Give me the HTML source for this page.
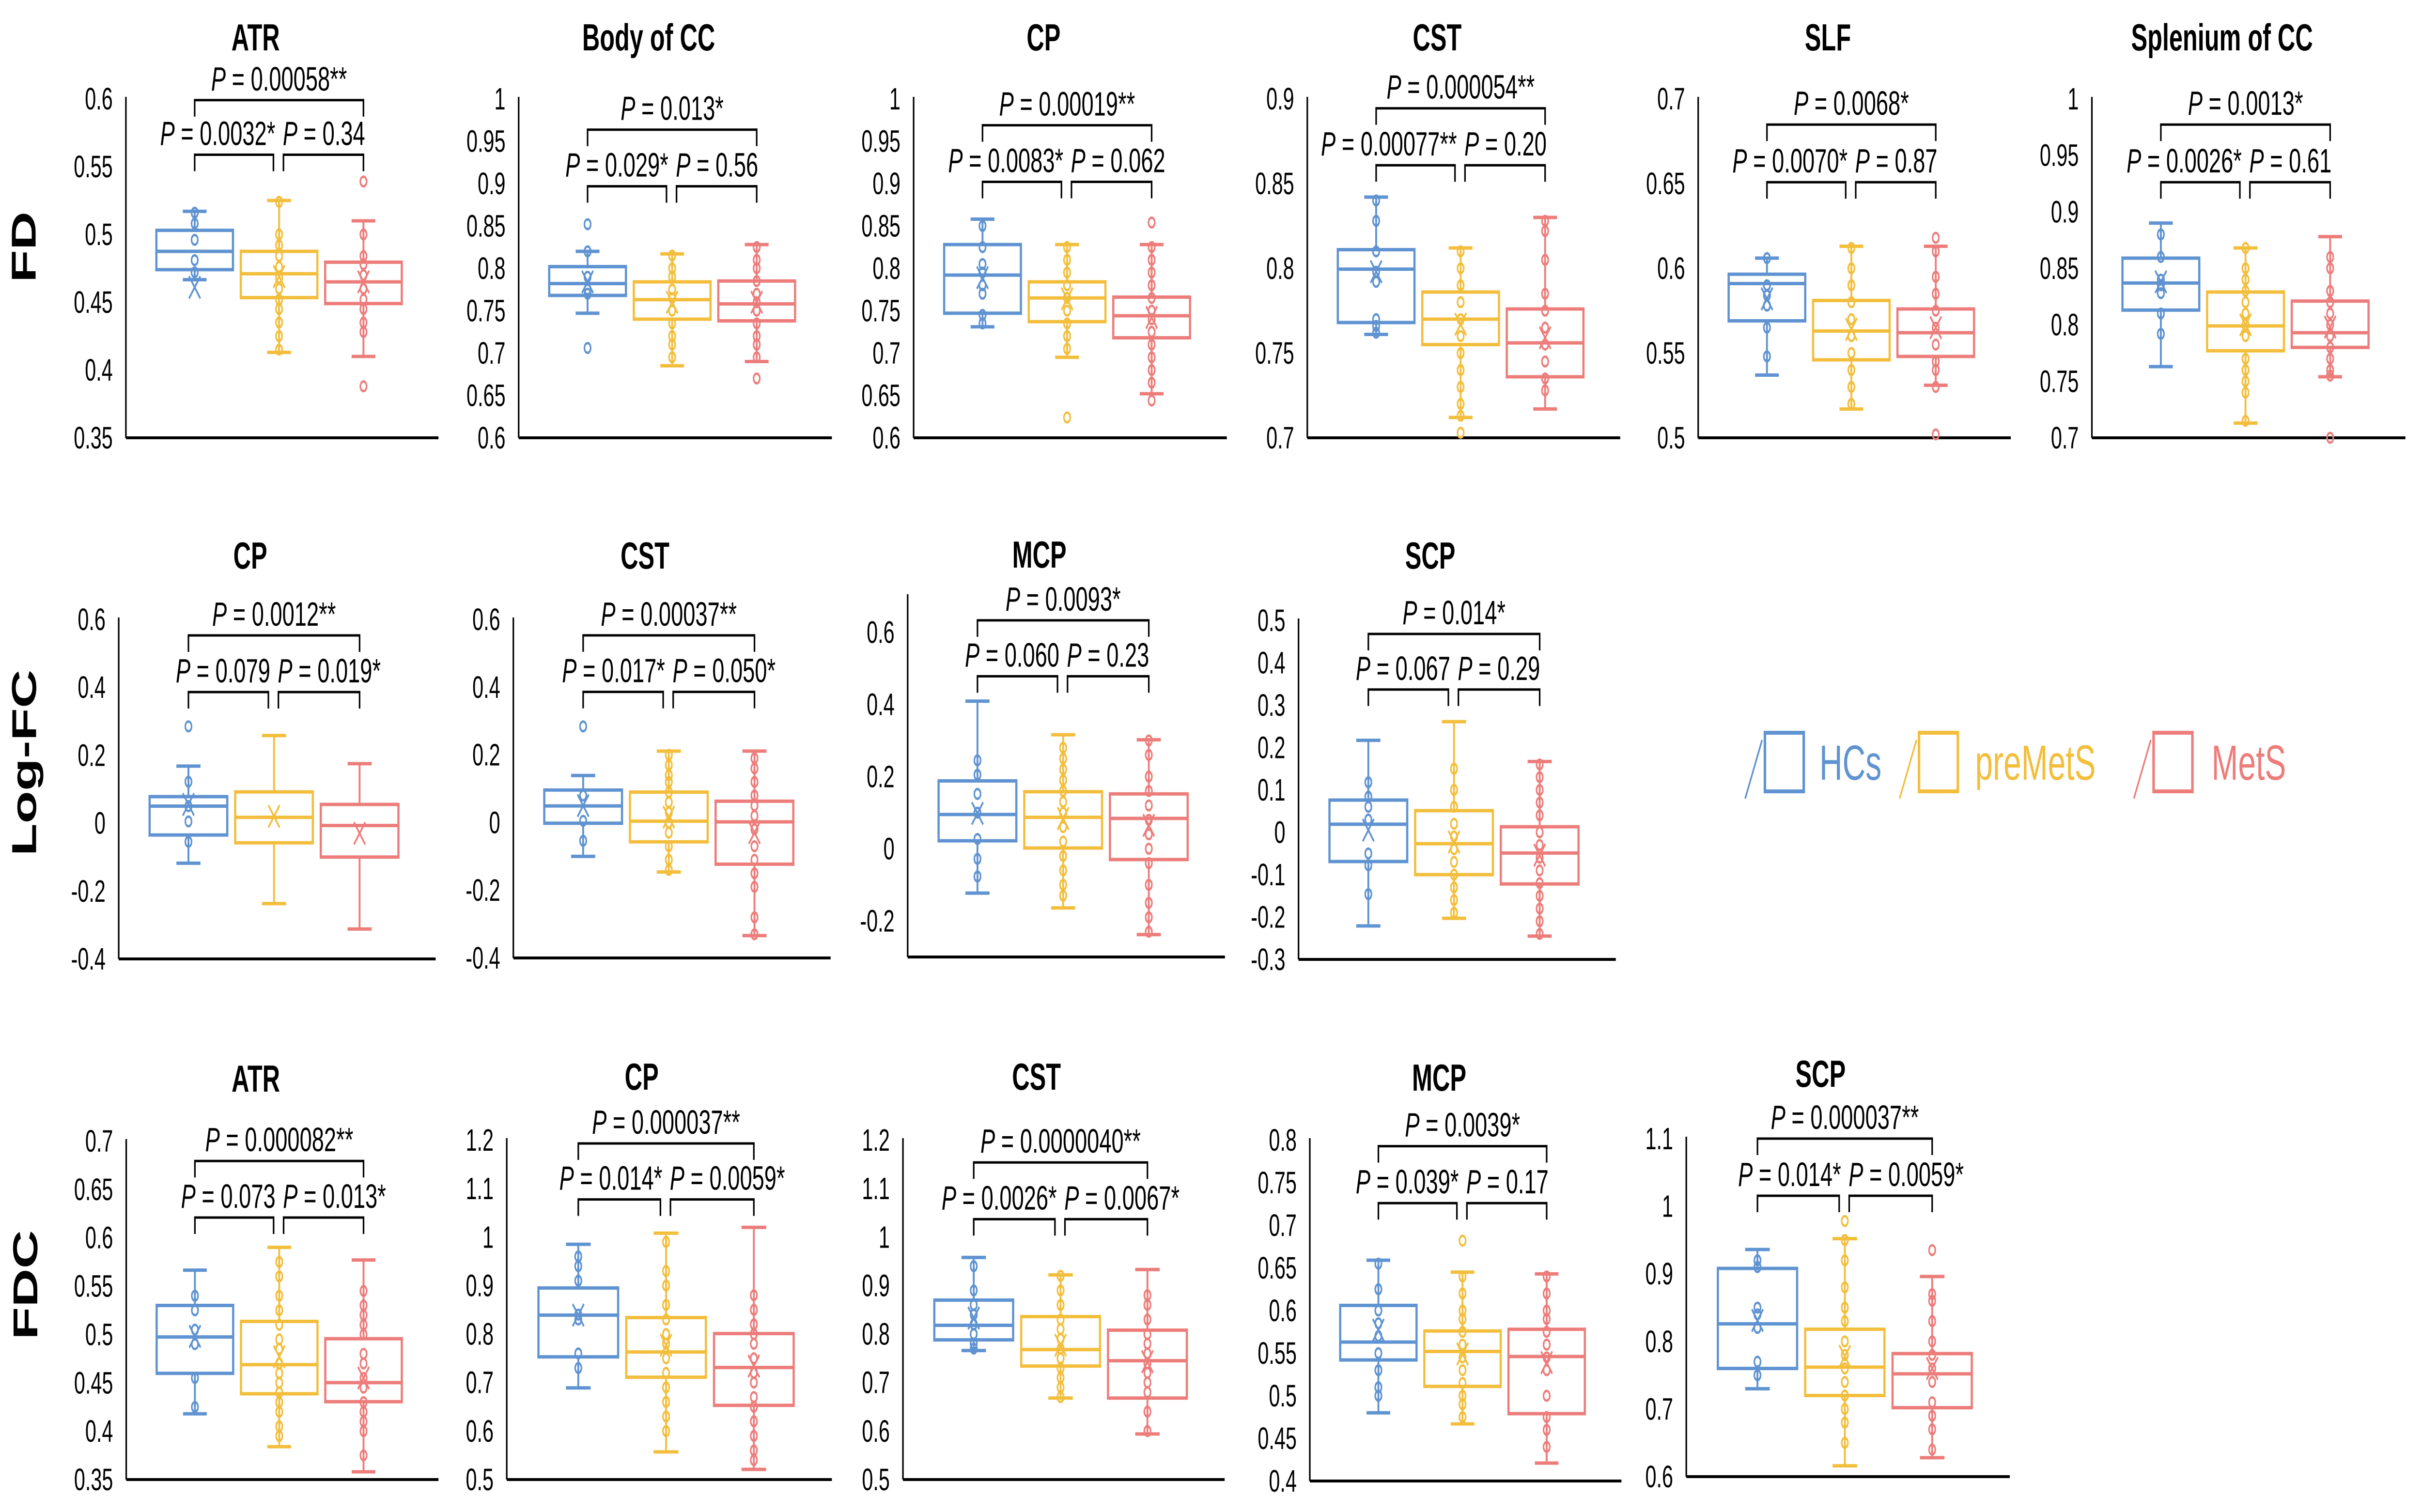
<!DOCTYPE html>
<html><head><meta charset="utf-8"><style>
html,body{margin:0;padding:0;background:#fff;width:100vw;height:100vh;overflow:hidden;}
svg{display:block;font-family:"Liberation Sans",sans-serif;width:100vw;height:100vh;}
</style></head><body>
<svg id="fig" viewBox="0 0 7733 3122" preserveAspectRatio="none" xmlns="http://www.w3.org/2000/svg"></svg>
<script>
// ---- data (one entry per panel, groups HCs / preMetS / MetS) ----
const panelTitles = ["ATR","Body of CC","CP","CST","SLF","Splenium of CC","CP","CST","MCP","SCP","ATR","CP","CST","MCP","SCP"];
const groupNames = ["HCs","preMetS","MetS"];
const whiskerHi = [[0.517,0.525,0.510],[0.82,0.817,0.828],[0.858,0.828,0.828],[0.842,0.812,0.830],[0.606,0.613,0.613],[0.890,0.868,0.878],
 [0.168,0.258,0.175],[0.139,0.211,0.211],[0.409,0.316,0.302],[0.217,0.261,0.167],
 [0.5665,0.590,0.577],[0.985,1.008,1.02],[0.958,0.922,0.933],[0.659,0.645,0.643],[0.936,0.952,0.896]];
const q3 = [[0.503,0.4875,0.4795],[0.802,0.784,0.785],[0.828,0.784,0.766],[0.811,0.786,0.776],[0.5965,0.581,0.576],[0.859,0.829,0.821],
 [0.078,0.092,0.055],[0.096,0.09,0.063],[0.188,0.158,0.152],[0.076,0.051,0.013],
 [0.530,0.5135,0.4956],[0.895,0.834,0.801],[0.870,0.836,0.808],[0.606,0.576,0.578],[0.908,0.818,0.782]];
const median = [[0.4875,0.471,0.465],[0.782,0.763,0.758],[0.792,0.765,0.744],[0.7995,0.770,0.756],[0.591,0.563,0.562],[0.837,0.799,0.793],
 [0.05,0.017,-0.007],[0.049,0.004,0.002],[0.095,0.087,0.084],[0.019,-0.027,-0.049],
 [0.4974,0.4688,0.4502],[0.839,0.763,0.731],[0.818,0.768,0.745],[0.563,0.552,0.546],[0.826,0.762,0.752]];
const q1 = [[0.474,0.4534,0.449],[0.768,0.74,0.738],[0.747,0.737,0.718],[0.768,0.755,0.736],[0.569,0.546,0.548],[0.813,0.777,0.78],
 [-0.035,-0.058,-0.1],[-0.002,-0.057,-0.123],[0.022,0.002,-0.03],[-0.069,-0.1,-0.122],
 [0.4598,0.4387,0.4305],[0.753,0.711,0.653],[0.788,0.734,0.668],[0.542,0.511,0.479],[0.76,0.72,0.702]];
const whiskerLo = [[0.4666,0.413,0.410],[0.747,0.685,0.69],[0.731,0.695,0.652],[0.761,0.712,0.717],[0.537,0.517,0.531],[0.763,0.713,0.754],
 [-0.118,-0.237,-0.312],[-0.1,-0.146,-0.334],[-0.123,-0.164,-0.238],[-0.221,-0.203,-0.245],
 [0.418,0.384,0.358],[0.689,0.557,0.521],[0.766,0.668,0.594],[0.480,0.467,0.421],[0.730,0.616,0.628]];
const meanVal = [[0.461,0.469,0.465],[0.784,0.76,0.76],[0.789,0.764,0.742],[0.798,0.767,0.759],[0.582,0.564,0.565],[0.838,0.8,0.798],
 [0.055,0.02,-0.03],[0.05,0.016,-0.03],[0.098,0.084,0.065],[0.005,-0.023,-0.054],
 [0.498,0.477,0.455],[0.839,0.777,0.734],[0.833,0.777,0.743],[0.577,0.549,0.539],[0.831,0.778,0.76]];
const points = [
 [[0.516,0.508,0.496,0.481,0.472],[0.524,0.5,0.492,0.484,0.476,0.468,0.46,0.452,0.445,0.435,0.425,0.415],[0.5,0.484,0.478,0.47,0.46,0.452,0.445,0.435,0.428]],
 [[0.82,0.79,0.775,0.77],[0.815,0.8,0.79,0.775,0.765,0.75,0.735,0.72,0.71,0.695],[0.825,0.81,0.8,0.785,0.77,0.76,0.75,0.735,0.72,0.71,0.695]],
 [[0.85,0.825,0.805,0.795,0.78,0.77,0.745,0.735],[0.825,0.81,0.795,0.78,0.765,0.75,0.735,0.72,0.705],[0.825,0.81,0.795,0.78,0.765,0.75,0.74,0.725,0.71,0.695,0.68,0.665]],
 [[0.84,0.828,0.81,0.798,0.792,0.77,0.766,0.762],[0.81,0.8,0.79,0.78,0.77,0.76,0.75,0.74,0.73,0.72,0.713],[0.828,0.822,0.805,0.785,0.775,0.765,0.755,0.745,0.735,0.728]],
 [[0.606,0.59,0.584,0.578,0.565,0.548],[0.612,0.6,0.59,0.58,0.57,0.56,0.55,0.54,0.53,0.52],[0.61,0.595,0.585,0.575,0.565,0.555,0.545,0.54,0.53]],
 [[0.88,0.86,0.84,0.835,0.828,0.81,0.792],[0.868,0.85,0.84,0.83,0.82,0.81,0.8,0.79,0.77,0.76,0.75,0.74,0.715],[0.86,0.85,0.83,0.82,0.81,0.8,0.79,0.78,0.77,0.76,0.755]],
 [[0.122,0.05,0.005,-0.055],[],[]],
 [[0.08,0.005,-0.054],[0.2,0.17,0.14,0.12,0.09,0.06,0.03,0,-0.03,-0.07,-0.11,-0.14],[0.19,0.16,0.12,0.08,0.05,0.02,-0.02,-0.07,-0.11,-0.15,-0.19,-0.28,-0.33]],
 [[0.245,0.205,0.152,0.1,0.027,-0.028,-0.077],[0.28,0.25,0.22,0.19,0.16,0.13,0.1,0.06,0.02,-0.02,-0.06,-0.1,-0.13],[0.3,0.26,0.2,0.16,0.12,0.08,0.04,0,-0.04,-0.1,-0.15,-0.19,-0.23]],
 [[0.118,0.084,0.06,0.03,-0.05,-0.078,-0.146],[0.15,0.1,0.06,0.02,-0.01,-0.04,-0.07,-0.1,-0.13,-0.16,-0.19],[0.16,0.13,0.1,0.07,0.04,0,-0.03,-0.06,-0.09,-0.12,-0.15,-0.18,-0.21,-0.24]],
 [[0.54,0.525,0.505,0.49,0.455,0.425],[0.575,0.56,0.54,0.525,0.51,0.495,0.485,0.47,0.46,0.45,0.44,0.43,0.42,0.405,0.395],[0.545,0.53,0.52,0.51,0.5,0.48,0.47,0.455,0.445,0.43,0.42,0.41,0.4,0.375]],
 [[0.96,0.94,0.91,0.84,0.83,0.76,0.73],[0.99,0.93,0.9,0.86,0.83,0.8,0.78,0.75,0.72,0.69,0.66,0.63,0.6],[0.88,0.85,0.82,0.8,0.78,0.75,0.72,0.7,0.67,0.65,0.62,0.59,0.56,0.54]],
 [[0.94,0.89,0.86,0.84,0.82,0.8,0.78,0.77],[0.92,0.89,0.86,0.83,0.81,0.79,0.77,0.75,0.73,0.71,0.69,0.67],[0.88,0.86,0.83,0.8,0.78,0.76,0.74,0.72,0.7,0.68,0.64,0.6]],
 [[0.655,0.625,0.6,0.585,0.57,0.55,0.53,0.51,0.5],[0.64,0.62,0.6,0.59,0.575,0.56,0.545,0.53,0.515,0.5,0.49,0.475],[0.64,0.62,0.6,0.59,0.575,0.56,0.545,0.53,0.5,0.475,0.46,0.44]],
 [[0.92,0.91,0.85,0.84,0.82,0.77,0.75],[0.95,0.92,0.88,0.85,0.83,0.8,0.78,0.76,0.74,0.72,0.7,0.68,0.65],[0.87,0.86,0.83,0.8,0.78,0.76,0.74,0.71,0.69,0.67,0.64]]
];
const outliers = [
 [[],[],[0.539,0.388]],[[0.852,0.706],[],[0.67]],[[],[0.624],[0.854,0.644]],[[],[0.703],[]],[[],[],[0.618,0.502]],[[],[],[0.7]],
 [[0.285],[],[]],[[0.284],[],[]],[[],[],[]],[[],[],[]],
 [[],[],[]],[[],[],[]],[[],[],[]],[[],[0.682],[]],[[],[0.978],[0.935]]
];
const pTop = ["0.00058**","0.013*","0.00019**","0.000054**","0.0068*","0.0013*","0.0012**","0.00037**","0.0093*","0.014*","0.000082**","0.000037**","0.0000040**","0.0039*","0.000037**"];
const pLeft = ["0.0032*","0.029*","0.0083*","0.00077**","0.0070*","0.0026*","0.079","0.017*","0.060","0.067","0.073","0.014*","0.0026*","0.039*","0.014*"];
const pRight = ["0.34","0.56","0.062","0.20","0.87","0.61","0.019*","0.050*","0.23","0.29","0.013*","0.0059*","0.0067*","0.17","0.0059*"];
const yMin = [0.35,0.6,0.6,0.7,0.5,0.7,-0.4,-0.4,-0.3,-0.3,0.35,0.5,0.5,0.4,0.6];
const yMax = [0.6,1,1,0.9,0.7,1,0.6,0.6,0.7,0.5,0.7,1.2,1.2,0.8,1.1];
const tickLabels = [
 ["0.35","0.4","0.45","0.5","0.55","0.6"],["0.6","0.65","0.7","0.75","0.8","0.85","0.9","0.95","1"],["0.6","0.65","0.7","0.75","0.8","0.85","0.9","0.95","1"],
 ["0.7","0.75","0.8","0.85","0.9"],["0.5","0.55","0.6","0.65","0.7"],["0.7","0.75","0.8","0.85","0.9","0.95","1"],
 ["-0.4","-0.2","0","0.2","0.4","0.6"],["-0.4","-0.2","0","0.2","0.4","0.6"],["-0.2","0","0.2","0.4","0.6"],["-0.3","-0.2","-0.1","0","0.1","0.2","0.3","0.4","0.5"],
 ["0.35","0.4","0.45","0.5","0.55","0.6","0.65","0.7"],["0.5","0.6","0.7","0.8","0.9","1","1.1","1.2"],["0.5","0.6","0.7","0.8","0.9","1","1.1","1.2"],
 ["0.4","0.45","0.5","0.55","0.6","0.65","0.7","0.75","0.8"],["0.6","0.7","0.8","0.9","1","1.1"]
];
// ---- layout (pixels) ----
const layout = [
 {ax:402,ar:1400,top:204,bot:904,ty:104,bt:0.004,bl:0.165},{ax:1656,ar:2656,top:204,bot:904,ty:104,bt:0.091,bl:0.258},
 {ax:2917,ar:3917,top:204,bot:904,ty:104,bt:0.078,bl:0.245},{ax:4174,ar:5173,top:204,bot:904,ty:104,bt:0.028,bl:0.196},
 {ax:5422,ar:6420,top:204,bot:904,ty:104,bt:0.076,bl:0.246},{ax:6679,ar:7680,top:204,bot:904,ty:104,bt:0.076,bl:0.246},
 {ax:379,ar:1391,top:1279,bot:1980,ty:1174,bt:0.047,bl:0.214},{ax:1639,ar:2652,top:1279,bot:1978,ty:1174,bt:0.047,bl:0.214},
 {ax:2898,ar:3911,top:1231,bot:1976,ty:1172,bt:0.067,bl:0.222},{ax:4146,ar:5159,top:1281,bot:1981,ty:1174,bt:0.04,bl:0.204},
 {ax:403,ar:1400,top:2356,bot:3055,ty:2254,bt:0.059,bl:0.226},{ax:1618,ar:2656,top:2354,bot:3055,ty:2250,bt:0.01,bl:0.175},
 {ax:2883,ar:3910,top:2354,bot:3055,ty:2250,bt:0.066,bl:0.233},{ax:4182,ar:5177,top:2354,bot:3058,ty:2252,bt:0.018,bl:0.185},
 {ax:5384,ar:6417,top:2351,bot:3049,ty:2244,bt:0.0,bl:0.169}
];
const colors = ["#5F93D1","#F3BE3C","#EC7D7B"];
const NS = "http://www.w3.org/2000/svg";
const svg = document.getElementById("fig");
function mk(tag, attrs, parent){
  const e = document.createElementNS(NS, tag);
  for (const k in attrs) e.setAttribute(k, attrs[k]);
  (parent||svg).appendChild(e);
  return e;
}
function line(x1,y1,x2,y2,stroke,w,parent){ return mk("line",{x1:x1,y1:y1,x2:x2,y2:y2,stroke:stroke,"stroke-width":w},parent); }
function ptext(parent,x,y,anchor,val){
  const t = mk("text",{x:x,y:y,"text-anchor":anchor,"font-size":70,fill:"#000"},parent);
  const i = document.createElementNS(NS,"tspan"); i.setAttribute("font-style","italic"); i.textContent="P"; t.appendChild(i);
  const r = document.createElementNS(NS,"tspan"); r.textContent=" = "+val; t.appendChild(r);
  return t;
}
// row labels
[["FD",76,510],["Log-FC",77,1575],["FDC",81,2653]].forEach(function(r){
  const t = mk("text",{x:0,y:0,"font-size":110,"font-weight":"bold","text-anchor":"middle",transform:"translate("+(r[1]+38)+","+r[2]+") rotate(-90)"});
  t.textContent = r[0];
  
  
});
layout.forEach(function(L,p){
  const g = mk("g",{});
  
  
  const len = L.ar - L.ax;
  const ys = function(v){ return L.bot - (v - yMin[p])/(yMax[p]-yMin[p])*(L.bot-L.top); };
  const ya = line(L.ax,L.top-4,L.ax,L.bot,"#000",5,g);
  
  
  const xa = line(L.ax,L.bot,L.ar,L.bot,"#000",6,g);
  
  
  tickLabels[p].forEach(function(lab){
    const t = mk("text",{x:L.ax-42,y:ys(parseFloat(lab))+22,"text-anchor":"end","font-size":64,fill:"#000"},g);
    t.textContent = lab;
    
    
  });
  const tt = mk("text",{x:L.ax+0.415*len,y:L.ty,"text-anchor":"middle","font-size":78,"font-weight":"bold",fill:"#000"},g);
  tt.textContent = panelTitles[p];
  
  
  const cx = [L.ax+0.22*len, L.ax+0.49*len, L.ax+0.76*len];
  const bw = 0.245*len, cap = 0.038*len;
  for (let k=0;k<3;k++){
    const bg = mk("g",{},g);
    
    
    const c = colors[k], x = cx[k];
    line(x,ys(whiskerHi[p][k]),x,ys(q3[p][k]),c,6,bg);
    line(x,ys(q1[p][k]),x,ys(whiskerLo[p][k]),c,6,bg);
    line(x-cap,ys(whiskerHi[p][k]),x+cap,ys(whiskerHi[p][k]),c,7,bg);
    line(x-cap,ys(whiskerLo[p][k]),x+cap,ys(whiskerLo[p][k]),c,7,bg);
    const yq3 = ys(q3[p][k]), yq1 = ys(q1[p][k]);
    mk("rect",{x:x-bw/2,y:yq3,width:bw,height:yq1-yq3,fill:"none",stroke:c,"stroke-width":7},bg);
    line(x-bw/2,ys(median[p][k]),x+bw/2,ys(median[p][k]),c,7,bg);
    points[p][k].concat(outliers[p][k]).forEach(function(v){
      const ci = mk("circle",{cx:x,cy:ys(v),r:10,fill:"none",stroke:c,"stroke-width":5},bg);
      
      
    });
    const my = ys(meanVal[p][k]);
    line(x-18,my-23,x+18,my+23,c,5,bg);
    line(x-18,my+23,x+18,my-23,c,5,bg);
  }
  const h = L.bot - L.top;
  const yb1 = L.top + L.bt*h, yb2 = L.top + L.bl*h, leg = 34;
  const bk = mk("g",{fill:"none",stroke:"#000","stroke-width":5},g);
  
  
  mk("polyline",{points:[cx[0],yb1+leg,cx[0],yb1,cx[2],yb1,cx[2],yb1+leg].join(" ")},bk);
  mk("polyline",{points:[cx[0],yb2+leg,cx[0],yb2,cx[1]-18,yb2,cx[1]-18,yb2+leg].join(" ")},bk);
  mk("polyline",{points:[cx[1]+14,yb2+leg,cx[1]+14,yb2,cx[2],yb2,cx[2],yb2+leg].join(" ")},bk);
  const t1 = ptext(g,(cx[0]+cx[2])/2,yb1-20,"middle",pTop[p]);
  
  
  const t2 = ptext(g,cx[1]-12,yb2-20,"end",pLeft[p]);
  
  
  const t3 = ptext(g,cx[1]+12,yb2-20,"start",pRight[p]);
  
  
});
// legend
const legend = mk("g",{});


[[5572,5631,5809,"HCs"],[6065,6123,6306,"preMetS"],[6813,6872,7061,"MetS"]].forEach(function(it,k){
  const e = mk("g",{},legend);
  
  
  line(it[0],1649,it[0]+54,1528,colors[k],5,e);
  mk("rect",{x:it[1]+4,y:1513,width:124,height:121,fill:"none",stroke:colors[k],"stroke-width":8},e);
  const t = mk("text",{x:it[2],y:1610,"font-size":102,fill:colors[k]},e);
  t.textContent = it[3];
});
</script>
</body></html>
